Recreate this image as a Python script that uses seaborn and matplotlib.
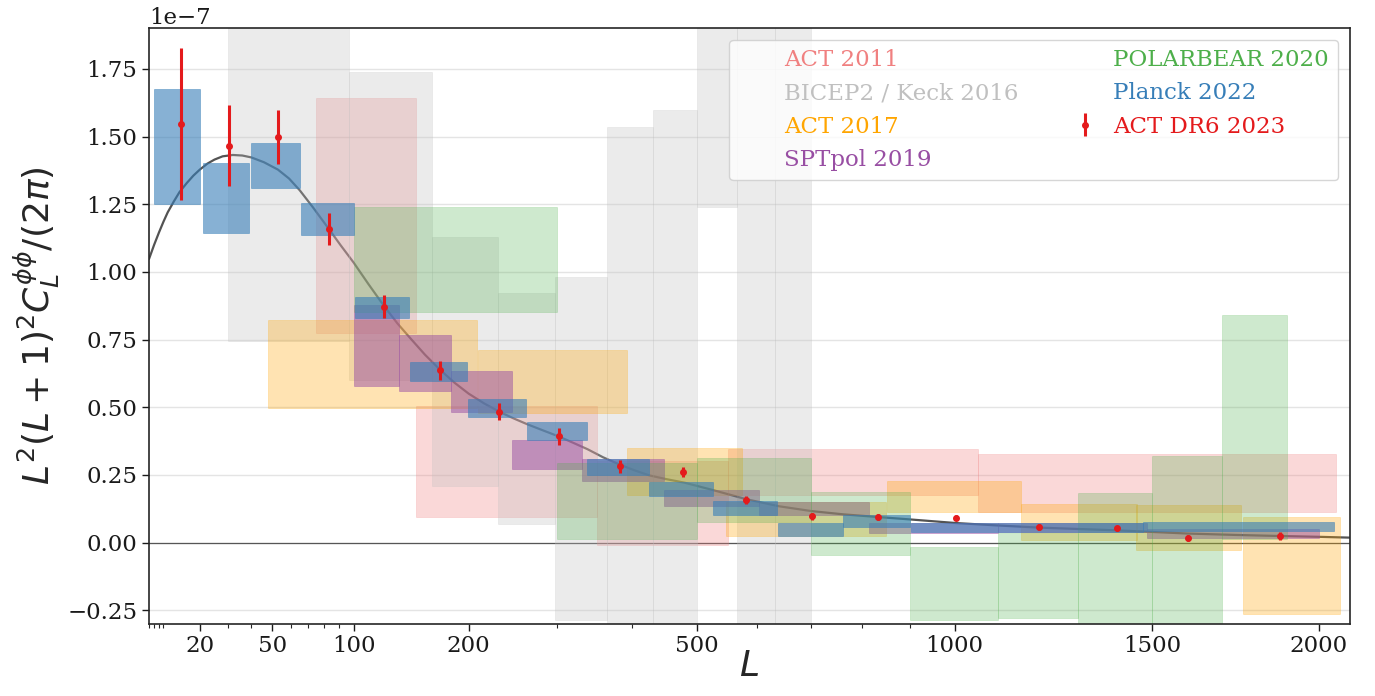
import numpy as np
import matplotlib
matplotlib.use('Agg')
import matplotlib.pyplot as plt
from matplotlib.patches import Patch
from matplotlib.ticker import LogLocator, MultipleLocator
import seaborn as sns

sns.set_theme(style="ticks")
plt.rcParams['font.family'] = ['DejaVu Serif']
plt.rcParams['mathtext.fontset'] = 'dejavusans'

SCALE = 1e-7  # values below are in units of 1e-7

# ACT 2011 bandpowers (box edges in L, box bottom/top)
act11_lmin = [75, 150, 352, 550, 1053]
act11_lmax = [150, 352, 550, 1053, 2057]
act11_lo = [0.773, 0.094, -0.008, 0.174, 0.112]
act11_hi = [1.644, 0.505, 0.300, 0.346, 0.328]

# BICEP2 / Keck 2016
bk_lmin = [30, 97, 164, 231, 298, 365, 432, 499, 566, 633]
bk_lmax = [97, 164, 231, 298, 365, 432, 499, 566, 633, 700]
bk_lo = [0.746, 0.601, 0.208, 0.067, -0.285, -0.45, -0.40, 1.239, -0.80, -0.80]
bk_hi = [2.30, 1.740, 1.128, 0.922, 0.982, 1.534, 1.599, 2.60, 2.80, 2.80]

# ACT 2017
act17_lmin = [48, 210, 393, 548, 852, 1156, 1454, 1762]
act17_lmax = [209, 393, 575, 850, 1156, 1459, 1757, 2067]
act17_lo = [0.498, 0.478, 0.175, 0.0225, 0.112, 0.011, -0.029, -0.263]
act17_hi = [0.824, 0.713, 0.350, 0.149, 0.229, 0.143, 0.137, 0.094]

# SPTpol 2019
spt_lmin = [100, 135, 182, 246, 332, 448, 604, 815, 1101, 1486]
spt_lmax = [135, 182, 246, 332, 448, 604, 815, 1101, 1486, 2000]
spt_lo = [0.578, 0.558, 0.482, 0.271, 0.227, 0.134, 0.100, 0.036, 0.040, 0.015]
spt_hi = [0.876, 0.767, 0.632, 0.377, 0.309, 0.193, 0.149, 0.073, 0.072, 0.051]

# POLARBEAR 2020
pb_lmin = [100, 300, 500, 700, 900, 1100, 1300, 1500, 1700]
pb_lmax = [300, 500, 700, 900, 1100, 1300, 1500, 1700, 1900]
pb_lo = [0.853, 0.012, 0.075, -0.048, -0.288, -0.278, -0.40, -0.40, 0.014]
pb_hi = [1.239, 0.294, 0.313, 0.186, -0.017, 0.036, 0.184, 0.319, 0.842]

# Planck 2022
pl_lmin = [8, 21, 40, 66, 101, 145, 199, 264, 339, 426, 526, 638, 763, 903, 1475]
pl_lmax = [20, 39, 65, 100, 144, 198, 263, 338, 425, 525, 637, 762, 902, 1475, 2048]
pl_lo = [1.250, 1.145, 1.310, 1.137, 0.829, 0.595, 0.463, 0.380, 0.248, 0.171,
         0.101, 0.025, 0.057, 0.038, 0.042]
pl_hi = [1.676, 1.401, 1.476, 1.256, 0.906, 0.668, 0.531, 0.445, 0.309, 0.223,
         0.152, 0.073, 0.100, 0.073, 0.075]

# ACT DR6 2023 points
act6_L = [14.4, 30.4, 53.0, 83.4, 123, 172, 232, 302, 383, 477, 582, 701, 834,
          1002, 1202, 1402, 1602, 1876]
act6_val = [1.546, 1.466, 1.498, 1.159, 0.871, 0.636, 0.484, 0.392, 0.281, 0.260,
            0.158, 0.0975, 0.095, 0.0916, 0.057, 0.052, 0.016, 0.025]
act6_err = [0.280, 0.150, 0.100, 0.060, 0.043, 0.034, 0.030, 0.030, 0.025, 0.018,
            0.015, 0.013, 0.012, 0.010, 0.010, 0.010, 0.010, 0.015]

# theory curve
theory_L = [7, 8, 9, 10, 11, 12.5, 14, 16, 18, 20, 22.5, 25, 28, 32, 36, 40, 46, 53,
            59, 65, 73, 83, 91, 100, 111, 123, 134, 145, 158, 172, 186, 200, 216,
            232, 248, 264, 283, 302, 320, 339, 360, 383, 404, 426, 452, 480, 527,
            582, 640, 701, 763, 834, 903, 1002, 1100, 1202, 1300, 1402, 1500, 1602,
            1740, 1876, 2000, 2100]
theory_val = [1.048, 1.100, 1.145, 1.185, 1.220, 1.260, 1.295, 1.328, 1.356, 1.378,
              1.400, 1.415, 1.427, 1.432, 1.430, 1.423, 1.405, 1.378, 1.345, 1.302,
              1.238, 1.159, 1.098, 1.035, 0.955, 0.875, 0.810, 0.755, 0.694, 0.638,
              0.590, 0.550, 0.514, 0.484, 0.459, 0.437, 0.414, 0.392, 0.369, 0.345,
              0.315, 0.288, 0.267, 0.248, 0.234, 0.221, 0.193, 0.160, 0.134, 0.116,
              0.104, 0.094, 0.085, 0.072, 0.063, 0.055, 0.050, 0.045, 0.039, 0.033,
              0.028, 0.024, 0.021, 0.018]


def draw_boxes(ax, lmin, lmax, lo, hi, color, alpha):
    lmin = np.array(lmin, dtype=float)
    lmax = np.array(lmax, dtype=float)
    lo = np.array(lo) * SCALE
    hi = np.array(hi) * SCALE
    ax.bar(lmin, hi - lo, width=lmax - lmin, bottom=lo, align='edge',
           color=color, alpha=alpha, edgecolor=color, linewidth=0.5, zorder=2)


fig = plt.figure(figsize=(13.75, 6.96), dpi=100)
ax = fig.add_axes([0.1084, 0.1039, 0.8731, 0.8554])
ax.set_xscale('function', functions=(np.sqrt, np.square))

ax.axhline(0, color='k', lw=0.9, alpha=0.7, zorder=1)
sns.lineplot(x=theory_L, y=np.array(theory_val) * SCALE, ax=ax, color='k',
             alpha=0.75, lw=1.6, zorder=1, sort=False)

draw_boxes(ax, act11_lmin, act11_lmax, act11_lo, act11_hi, 'lightcoral', 0.3)
draw_boxes(ax, bk_lmin, bk_lmax, bk_lo, bk_hi, 'silver', 0.3)
draw_boxes(ax, act17_lmin, act17_lmax, act17_lo, act17_hi, 'orange', 0.3)
draw_boxes(ax, spt_lmin, spt_lmax, spt_lo, spt_hi, '#984ea3', 0.5)
draw_boxes(ax, pb_lmin, pb_lmax, pb_lo, pb_hi, '#4daf4a', 0.27)
draw_boxes(ax, pl_lmin, pl_lmax, pl_lo, pl_hi, '#377eb8', 0.6)

eb = ax.errorbar(act6_L, np.array(act6_val) * SCALE, yerr=np.array(act6_err) * SCALE,
                 fmt='o', color='#e41a1c', ms=4, elinewidth=2.2, capsize=0,
                 zorder=5, label='ACT DR6 2023')

ax.set_xlim(7, 2100)
ax.set_ylim(-0.3e-7, 1.9e-7)
xt = [20, 50, 100, 200, 500, 1000, 1500, 2000]
ax.set_xticks(xt, labels=[str(v) for v in xt])
ax.xaxis.set_minor_locator(LogLocator(base=10, subs=np.arange(1, 10) * 1.0, numticks=100))
ax.yaxis.set_major_locator(MultipleLocator(0.25e-7))
ax.tick_params(axis='both', which='major', labelsize=16.5, direction='out',
               length=5, width=1, colors='0.1')
ax.tick_params(axis='x', which='minor', direction='out', length=3, width=0.8)
ax.yaxis.get_offset_text().set_fontsize(16.5)
ax.yaxis.grid(True, color='#e4e4e4', lw=1)
ax.xaxis.grid(False)
ax.set_axisbelow(True)
for sp in ax.spines.values():
    sp.set_color('0.15')
    sp.set_linewidth(1.2)

ax.set_xlabel(r'$L$', fontsize=26, labelpad=-6)
ax.set_ylabel(r'$L^2(L+1)^2C_L^{\phi\phi}/(2\pi)$', fontsize=26)

names = ['ACT 2011', 'BICEP2 / Keck 2016', 'ACT 2017', 'SPTpol 2019',
         'POLARBEAR 2020', 'Planck 2022']
label_colors = ['lightcoral', 'silver', 'orange', '#984ea3', '#4daf4a', '#377eb8']
handles = [Patch(facecolor='none', edgecolor='none', label=n) for n in names] + [eb]
ax.legend(handles=handles, ncol=2, loc='upper right', fontsize=16.5,
          labelcolor=label_colors + ['#e41a1c'], handlelength=1.5,
          handletextpad=0.5, columnspacing=2.13)

fig.savefig('out.png', dpi=100)
